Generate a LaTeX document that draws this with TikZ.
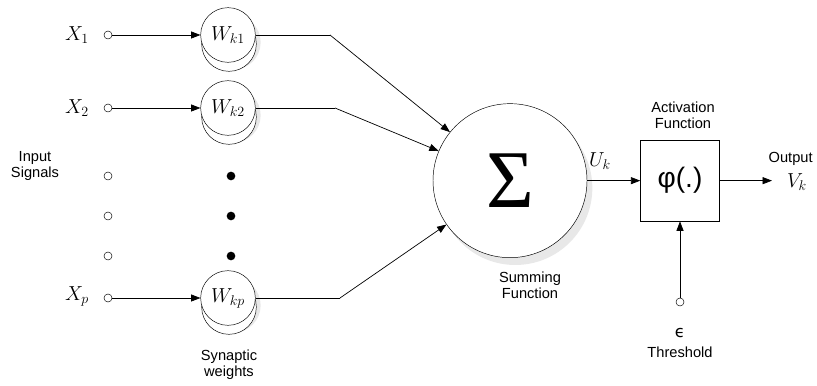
\documentclass[tikz,border=0pt]{standalone}
\usepackage{fontspec}
\setsansfont{Liberation Sans}
\newfontfamily\sigmafont{Liberation Serif}
\newfontfamily\epsfont{DejaVu Sans}
\usetikzlibrary{arrows.meta,positioning,shadows}

\begin{document}
\begin{tikzpicture}[
    every node/.style={font=\sffamily\fontsize{12.5}{13.6}\selectfont},
    sym/.style={font=\fontsize{17.28}{17.28}\selectfont},
    weight/.style={draw, circle, fill=white, minimum size=16.4mm, inner sep=0pt,
        drop shadow={shadow xshift=1.6mm, shadow yshift=-2.2mm, opacity=0.18},
        copy shadow={shadow xshift=0.3mm, shadow yshift=-2.7mm}},
    port/.style={draw, circle, fill=white, minimum size=2.4mm, inner sep=0pt},
    dot/.style={circle, fill=black, minimum size=2.6mm, inner sep=0pt},
    link/.style={draw, line width=0.6pt, -{Triangle[length=8pt,width=6pt]}},
    wire/.style={draw, line width=0.6pt},
]
\useasboundingbox (0,0) rectangle (24.51,11.58);

% inputs and synaptic weights
\node[sym] (x1) at (2.31,10.53) {$X_1$};
\node[sym] (x2) at (2.31,8.34) {$X_2$};
\node[sym] (xp) at (2.31,2.70) {$X_p$};
\node[port] (in1) at (3.24,10.53) {};
\node[port] (in2) at (3.24,8.34) {};
\node[port] (inp) at (3.24,2.64) {};
\node[weight, sym] (w1) at (6.84,10.53) {$W_{k1}$};
\node[weight, sym] (w2) at (6.84,8.34) {$W_{k2}$};
\node[weight, sym] (wp) at (6.84,2.64) {$W_{kp}$};
\foreach \y [count=\i] in {6.30,5.10,3.90} {
  \node[port] (in-gap\i) at (3.24,\y) {};
  \node[dot] (w-gap\i) at (6.93,\y) {};
}
\node[align=center] (inlbl) at (1.05,6.60) {Input\\Signals};
\node[align=center] (wlbl) at (6.87,0.63) {Synaptic\\weights};

\draw[link] (in1) -- (w1);
\draw[link] (in2) -- (w2);
\draw[link] (inp) -- (wp);

% summing junction
\node[draw, circle, fill=white, minimum size=46.2mm, inner sep=0pt,
      drop shadow={shadow xshift=1.6mm, shadow yshift=-2.2mm, opacity=0.18}]
  (sum) at (15.30,6.16) {\sigmafont\fontsize{70}{70}\selectfont Σ};
\node[align=center] (sumlbl) at (15.9,3.03) {Summing\\Function};

\coordinate (b1) at (9.90,10.53);
\coordinate (b2) at (10.05,8.34);
\coordinate (bp) at (10.20,2.64);
\draw[wire] (w1) -- (b1);
\draw[wire] (w2) -- (b2);
\draw[wire] (wp) -- (bp);
\draw[link] (b1) -- (sum);
\draw[link] (b2) -- (sum);
\draw[link] (bp) -- (sum);

% activation and output
\node[draw, fill=white, minimum width=23.7mm, minimum height=24.3mm,
      font=\sffamily\fontsize{24}{24}\selectfont] (phi) at (20.40,6.16) {φ(.)};
\node[align=center] (actlbl) at (20.49,8.13) {Activation\\Function};
\node[sym] (uk) at (18.0,6.75) {$U_k$};
\draw[link] (sum) -- (phi);

\coordinate (out) at (23.16,6.16);
\draw[link] (phi) -- (out);
\node[sym] (vk) at (23.91,6.12) {$V_k$};
\node (outlbl) at (23.72,6.81) {Output};

% threshold
\node[port] (thr) at (20.40,2.52) {};
\node[font=\epsfont\fontsize{14}{14}\selectfont] (theta) at (20.40,1.59) {ϵ};
\node (thrlbl) at (20.40,1.02) {Threshold};
\draw[link] (thr) -- (phi);
\end{tikzpicture}
\end{document}
